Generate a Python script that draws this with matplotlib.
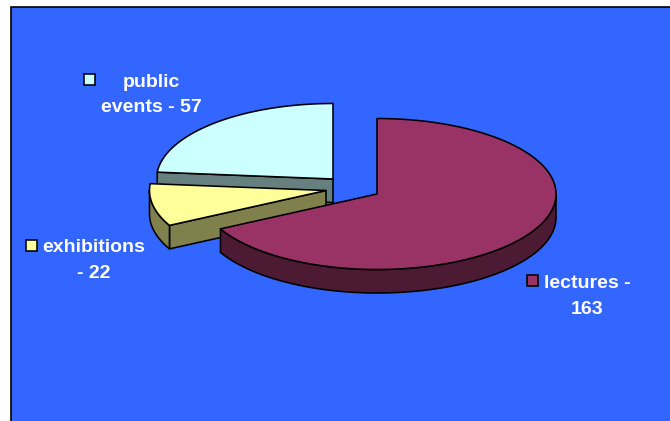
import numpy as np
import matplotlib
matplotlib.use("Agg")
import matplotlib.pyplot as plt
from matplotlib.patches import Polygon, Rectangle

plt.rcParams["font.family"] = ["Liberation Sans", "DejaVu Sans"]

categories = ["lectures", "exhibitions", "public events"]
values = [163, 22, 57]
label_lines = [["lectures -", "163"], ["exhibitions", "- 22"], ["public", "events - 57"]]

top_colors = ["#993366", "#FFFF99", "#CCFFFF"]
side_colors = ["#4D1A33", "#80804D", "#668080"]
BLUE = "#3366FF"

# pie geometry, in pixels of the picture (the source ellipse is a bit narrower on the left)
RX_RIGHT, RX_LEFT, RY, DEPTH = 179, 176.5, 75.5, 23.5
centers = [(377, 194), (326, 190.5), (333, 179)]
# label positions: line centre x, first baseline y, square x, square y
label_pos = [(587.5, 288, 527, 275), (94, 252, 26, 240), (151.5, 87, 84, 74)]


def rim(cx, cy, a0, a1):
    # angles in degrees, clockwise from 12 o'clock
    t = np.radians(np.linspace(a0, a1, max(2, int(abs(a1 - a0)) * 2)))
    s = np.sin(t)
    rx = np.where(s < 0, RX_LEFT, RX_RIGHT)
    return np.column_stack([cx + rx * s, cy - RY * np.cos(t)])


def down(pts):
    return pts + np.array([0, DEPTH])


def draw_slice(ax, center, a0, a1, top, side):
    cx, cy = center
    # wall of the cut at the starting angle, only seen when it faces the viewer
    if 180 < a0 < 360:
        edge = np.array([rim(cx, cy, a0, a0)[0], [cx, cy]])
        wall = np.vstack([edge, down(edge)[::-1]])
        ax.add_patch(Polygon(wall, fc=side, ec="black", lw=1.15, joinstyle="round"))
    # outer wall for the part of the rim at the front
    f0, f1 = max(a0, 90), min(a1, 270)
    if f1 > f0:
        arc = rim(cx, cy, f0, f1)
        wall = np.vstack([arc, down(arc)[::-1]])
        ax.add_patch(Polygon(wall, fc=side, ec="black", lw=1.15, joinstyle="round"))
    face = np.vstack([[cx, cy], rim(cx, cy, a0, a1)])
    ax.add_patch(Polygon(face, fc=top, ec="black", lw=1.15, joinstyle="round"))


fig = plt.figure(figsize=(6.7, 4.21), dpi=100, facecolor="white")
ax = fig.add_axes([0, 0, 1, 1])
ax.set_xlim(0, 670)
ax.set_ylim(421, 0)
ax.axis("off")

ax.add_patch(Rectangle((10.5, 6.5), 670, 430, fc=BLUE, ec="black", lw=1.2))

angles = np.concatenate([[0], np.cumsum(values) / np.sum(values) * 360])
for i in [2, 1, 0]:
    draw_slice(ax, centers[i], angles[i], angles[i + 1], top_colors[i], side_colors[i])

for lines, (x, y, sx, sy), color in zip(label_lines, label_pos, top_colors):
    ax.add_patch(Rectangle((sx, sy), 11, 11, fc=color, ec="black", lw=1.15))
    for k, line in enumerate(lines):
        ax.text(x, y + 25.5 * k, line, color="white", fontsize=14, fontweight="bold",
                ha="center", va="baseline")

fig.savefig("out.png", dpi=100)
